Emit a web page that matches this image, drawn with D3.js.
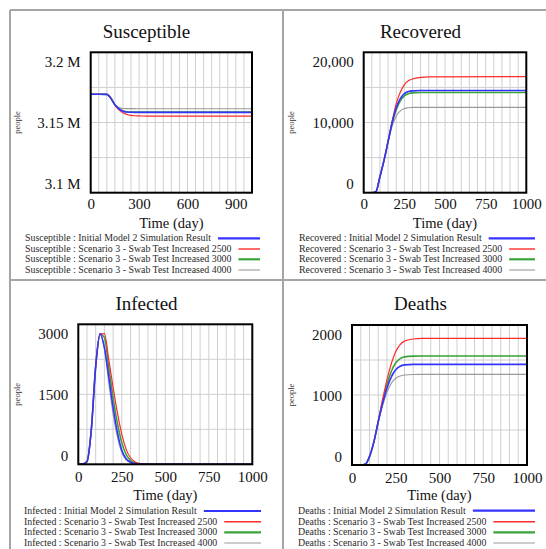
<!DOCTYPE html>
<html><head><meta charset="utf-8">
<script src="https://cdn.jsdelivr.net/npm/d3@7"></script>
<style>
body{margin:0;background:#fff}
svg{display:block}
svg text{font-family:"Liberation Serif","Times New Roman",serif !important}
</style>
</head><body>
<svg id="c" width="546" height="549" font-family="Liberation Serif"></svg>
<script>
// ---------- data ----------
const seriesNames = ["Initial Model 2 Simulation Result","Scenario 3 - Swab Test Increased 2500","Scenario 3 - Swab Test Increased 3000","Scenario 3 - Swab Test Increased 4000"];

const susDays = [0,50,100,125,150,175,200,225,250,275,300,350,400,1000];
const susInitial = [3170100,3170100,3170000,3167300,3162600,3159700,3158000,3157450,3157250,3157200,3157200,3157200,3157200,3157200];
const sus2500 = [3170100,3170100,3170000,3167300,3162400,3159000,3156900,3155700,3155100,3154800,3154650,3154600,3154600,3154600];
const sus3000 = [3170100,3170100,3170000,3167300,3162600,3159800,3158200,3157650,3157450,3157400,3157400,3157400,3157400,3157400];
const sus4000 = [3170100,3170100,3170000,3167300,3163000,3160700,3160000,3159900,3159900,3159850,3159800,3159800,3159800,3159800];
const susYTicks = [3100000,3150000,3200000];
const susYLabels = ["3.1 M","3.15 M","3.2 M"];
const susXTicks = [0,300,600,900];

const recDays = [0,50,75,100,125,150,175,200,225,250,275,300,350,400,1000];
const recInitial = [0,0,150,2300,4600,7300,10000,12100,13400,14100,14400,14500,14550,14550,14550];
const rec2500 = [0,0,150,2300,4600,7300,10200,12700,14300,15400,15950,16200,16430,16500,16530];
const rec3000 = [0,0,150,2300,4600,7300,9900,11800,13100,13800,14100,14220,14270,14280,14280];
const rec4000 = [0,0,150,2300,4600,7200,9500,10900,11650,11980,12100,12150,12160,12160,12160];
const recYTicks = [0,10000,20000];
const recYLabels = ["0","10,000","20,000"];

const infDays = [0,25,50,75,100,125,150,175,200,225,250,275,300,325,350,400,500,1000];
const infInitial = [0,5,60,750,2100,2800,2500,1880,1220,680,300,120,45,15,5,0,0,0];
const inf2500 = [0,5,60,750,2100,2790,2800,2250,1650,1100,640,320,140,55,20,3,0,0];
const inf3000 = [0,5,60,750,2100,2790,2720,2080,1430,880,460,210,85,30,10,1,0,0];
const inf4000 = [0,5,60,750,2100,2790,2480,1750,1080,580,250,95,33,10,3,0,0,0];
const infYTicks = [0,1500,3000];
const infYLabels = ["0","1500","3000"];

const dthDays = [0,50,75,100,125,150,175,200,225,250,275,300,350,400,1000];
const dthInitial = [0,0,10,120,330,620,880,1100,1260,1360,1410,1430,1438,1438,1438];
const dth2500 = [0,0,10,120,330,630,940,1220,1450,1620,1720,1770,1800,1810,1810];
const dth3000 = [0,0,10,120,330,620,900,1150,1340,1460,1520,1545,1555,1557,1557];
const dth4000 = [0,0,10,120,330,610,850,1040,1170,1240,1270,1285,1293,1295,1295];
const dthYTicks = [0,1000,2000];
const dthYLabels = ["0","1000","2000"];

const xTicks1000 = [0,250,500,750,1000];

// ---------- drawing ----------
const FONT = '"Liberation Serif","Times New Roman",serif';
const svg = d3.select("#c");
svg.append("rect").attr("width",546).attr("height",549).attr("fill","#fff");

// panel borders
const border = svg.append("g").attr("stroke","#a5a5a5").attr("stroke-width",2);
border.append("line").attr("x1",10).attr("x2",546).attr("y1",10).attr("y2",10);
border.append("line").attr("x1",10).attr("x2",546).attr("y1",280).attr("y2",280);
border.append("line").attr("x1",10).attr("x2",10).attr("y1",10).attr("y2",549);
border.append("line").attr("x1",283).attr("x2",283).attr("y1",10).attr("y2",549);

const colors = ["#3434ff","#ff2a2a","#3aa33a","#999999"];
const widths = [1.6,1.2,1.6,1.1];
const legWidths = [2.2,1.4,2.2,1.1];

function panel(cfg, idx){
  const g = svg.append("g").attr("font-family",FONT);
  const x = d3.scaleLinear().domain([0,1000]).range([cfg.x0,cfg.x1]);
  const y = d3.scaleLinear().domain(cfg.yDomain).range([cfg.y1,cfg.y0]);

  // title
  g.append("text").attr("x",cfg.cx).attr("y",cfg.titleY).attr("text-anchor","middle")
    .attr("font-size",19).attr("fill","#111").text(cfg.title);

  // grid
  const grid = g.append("g").attr("stroke","#cfcfcf").attr("stroke-width",1);
  grid.selectAll("line.v").data(d3.range(50,1000,50)).join("line")
    .attr("x1",d=>x(d)).attr("x2",d=>x(d)).attr("y1",cfg.y0).attr("y2",cfg.y1);
  const yg = d3.range(1,4).map(i=>cfg.yDomain[0]+(cfg.yDomain[1]-cfg.yDomain[0])*i/4);
  grid.selectAll("line.h").data(yg).join("line")
    .attr("x1",cfg.x0).attr("x2",cfg.x1).attr("y1",d=>y(d)).attr("y2",d=>y(d));

  // lines
  const clipId = "clip"+idx;
  g.append("clipPath").attr("id",clipId).append("rect")
    .attr("x",cfg.x0).attr("y",cfg.y0-2).attr("width",cfg.x1-cfg.x0).attr("height",cfg.y1-cfg.y0+2);
  const line = d3.line().x(d=>x(d[0])).y(d=>y(d[1])).curve(d3.curveMonotoneX);
  const order = [3,2,1,0];
  order.forEach(k=>{
    const pts = cfg.days.map((d,i)=>[d,cfg.series[k][i]]);
    g.append("path").attr("clip-path",`url(#${clipId})`).attr("d",line(pts))
      .attr("fill","none").attr("stroke",colors[k]).attr("stroke-width",widths[k]);
  });

  // frame
  g.append("rect").attr("x",cfg.x0).attr("y",cfg.y0).attr("width",cfg.x1-cfg.x0).attr("height",cfg.y1-cfg.y0)
    .attr("fill","none").attr("stroke","#000").attr("stroke-width",2);

  // axes
  const xa = g.append("g").attr("transform",`translate(0,${cfg.y1})`)
    .call(d3.axisBottom(x).tickValues(cfg.xTicks).tickSize(0).tickPadding(cfg.xPad).tickFormat(d3.format("d")));
  xa.attr("font-family",FONT).attr("font-size",15);
  xa.select(".domain").remove();
  xa.selectAll("text").attr("fill","#111").style("font-family",FONT);

  const ya = g.append("g").attr("transform",`translate(${cfg.x0},0)`)
    .call(d3.axisLeft(y).tickValues(cfg.yTicks).tickSize(0).tickPadding(10).tickFormat((d,i)=>cfg.yLabels[i]));
  ya.attr("font-family",FONT).attr("font-size",15);
  ya.select(".domain").remove();
  ya.selectAll("text").attr("fill","#111").style("font-family",FONT)
    .attr("dy",(d,i)=> i===0 ? -4 : (i===cfg.yTicks.length-1 ? 14 : 5));

  g.append("text").attr("x",(cfg.x0+cfg.x1)/2).attr("y",cfg.xTitleY).attr("text-anchor","middle")
    .attr("font-size",14.5).attr("fill","#111").text("Time (day)");

  g.append("text").attr("transform",`translate(${cfg.peopleX},${(cfg.y0+cfg.y1)/2}) rotate(-90)`)
    .attr("text-anchor","middle").attr("font-size",8.5).attr("fill","#333").text("people");

  // legend
  seriesNames.forEach((nm,k)=>{
    const ly = cfg.legY[k];
    const t = g.append("text").attr("x",cfg.legX).attr("y",ly+3).attr("font-size",9.9)
      .attr("fill","#2a2a2a").text(cfg.title+" : "+nm);
    const w = t.node().getComputedTextLength();
    g.append("line").attr("x1",cfg.legX+w+7).attr("x2",cfg.legEnd).attr("y1",ly).attr("y2",ly)
      .attr("stroke",colors[k]).attr("stroke-width",legWidths[k]);
  });
}

panel({title:"Susceptible",days:susDays,series:[susInitial,sus2500,sus3000,sus4000],
  yDomain:[3100000,3200000],yTicks:susYTicks,yLabels:susYLabels,xTicks:susXTicks,
  x0:90.7,x1:252,y0:52.3,y1:192.7,cx:146.5,titleY:38,xPad:6,xTitleY:227.5,peopleX:20,
  legX:25,legEnd:260,legY:[238.3,249,259.3,270]},0);
panel({title:"Recovered",days:recDays,series:[recInitial,rec2500,rec3000,rec4000],
  yDomain:[0,20000],yTicks:recYTicks,yLabels:recYLabels,xTicks:xTicks1000,
  x0:363.7,x1:526.3,y0:52.3,y1:192.7,cx:420.5,titleY:38,xPad:6,xTitleY:227.5,peopleX:294,
  legX:299,legEnd:535,legY:[238.3,249,259.3,270]},1);
panel({title:"Infected",days:infDays,series:[infInitial,inf2500,inf3000,inf4000],
  yDomain:[0,3000],yTicks:infYTicks,yLabels:infYLabels,xTicks:xTicks1000,
  x0:78.3,x1:252.3,y0:324.3,y1:464.3,cx:146.5,titleY:310,xPad:7,xTitleY:499.5,peopleX:20,
  legX:24,legEnd:261,legY:[511,521.7,532.3,543]},2);
panel({title:"Deaths",days:dthDays,series:[dthInitial,dth2500,dth3000,dth4000],
  yDomain:[0,2000],yTicks:dthYTicks,yLabels:dthYLabels,xTicks:xTicks1000,
  x0:352,x1:527,y0:325,y1:465,cx:420.5,titleY:310,xPad:7,xTitleY:499.5,peopleX:294,
  legX:298,legEnd:535,legY:[510.7,521.7,532.3,543]},3);
</script>
</body></html>
